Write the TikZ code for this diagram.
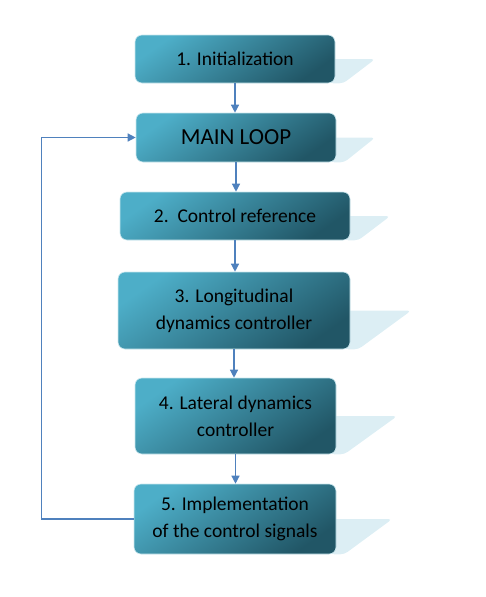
\documentclass[tikz,border=0pt]{standalone}
\usepackage{fontspec}
\setmainfont{Carlito}
\usetikzlibrary{arrows.meta, calc, backgrounds}
\definecolor{boxlight}{HTML}{4DAEC8}
\definecolor{boxdark}{HTML}{215666}
\definecolor{arrowblue}{HTML}{4F81BD}
\definecolor{reflblue}{HTML}{DCEEF4}

\begin{document}
\begin{tikzpicture}[x=1pt, y=-1pt,
  stepbox/.style={rectangle, rounded corners=7pt, draw=boxlight!30!white, line width=0.6pt, top color=boxlight, bottom color=boxdark, shading angle=35, text=black, font=\fontsize{19.5}{27}\selectfont, align=center, inner sep=0pt},
  refl/.style={fill=reflblue, rounded corners=4pt},
  arr/.style={-{Triangle[length=8pt, width=8pt]}, draw=arrowblue, line width=1.3pt},
]
\useasboundingbox (0,0) rectangle (485,597);

\node[stepbox, minimum width=200pt, minimum height=48pt] (init) at (235,59)    {1. Initialization};
\node[stepbox, minimum width=200pt, minimum height=49pt, font=\fontsize{23}{27}\selectfont] (loop) at (236,137.5) {MAIN LOOP};
\node[stepbox, minimum width=230pt, minimum height=48pt] (ref)  at (235,216)   {2.\ \ Control reference};
\node[stepbox, minimum width=232pt, minimum height=77pt] (lon)  at (234,310.5) {3. Longitudinal\\dynamics controller};
\node[stepbox, minimum width=201pt, minimum height=76pt] (lat)  at (235.5,416) {4. Lateral dynamics\\controller};
\node[stepbox, minimum width=202pt, minimum height=70pt] (impl) at (235,519)   {5. Implementation\\of the control signals};

% reflections behind the boxes
\begin{scope}[on background layer]
\fill[refl] ($(init.east)+(-6,0)$) -- ($(init.east)+(40,0)$) -- ($(init.south east)+(8,0)$) -- ($(init.south east)+(-6,0)$) -- cycle;
\fill[refl] ($(loop.east)+(-6,0)$) -- ($(loop.east)+(39,0)$) -- ($(loop.south east)+(8,0)$) -- ($(loop.south east)+(-6,0)$) -- cycle;
\fill[refl] ($(ref.east)+(-6,0)$)  -- ($(ref.east)+(40,0)$)  -- ($(ref.south east)+(8,0)$)  -- ($(ref.south east)+(-6,0)$)  -- cycle;
\fill[refl] ($(lon.east)+(-6,0)$)  -- ($(lon.east)+(61,0)$)  -- ($(lon.south east)+(8,0)$)  -- ($(lon.south east)+(-6,0)$)  -- cycle;
\fill[refl] ($(lat.east)+(-6,0)$)  -- ($(lat.east)+(61,0)$)  -- ($(lat.south east)+(8,0)$)  -- ($(lat.south east)+(-6,0)$)  -- cycle;
\fill[refl] ($(impl.east)+(-6,0)$) -- ($(impl.east)+(56,0)$) -- ($(impl.south east)+(8,0)$) -- ($(impl.south east)+(-6,0)$) -- cycle;
\end{scope}

\draw[arr] (init.south) -- (init.south |- loop.north);
\draw[arr] (loop.south) -- (loop.south |- ref.north);
\draw[arr] (ref.south)  -- (ref.south |- lon.north);
\draw[arr] (lon.south)  -- (lon.south |- lat.north);
\draw[arr] (lat.south)  -- (lat.south |- impl.north);
\draw[arr] (impl.west) -- ++(-92,0) |- (loop.west);
\end{tikzpicture}
\end{document}
